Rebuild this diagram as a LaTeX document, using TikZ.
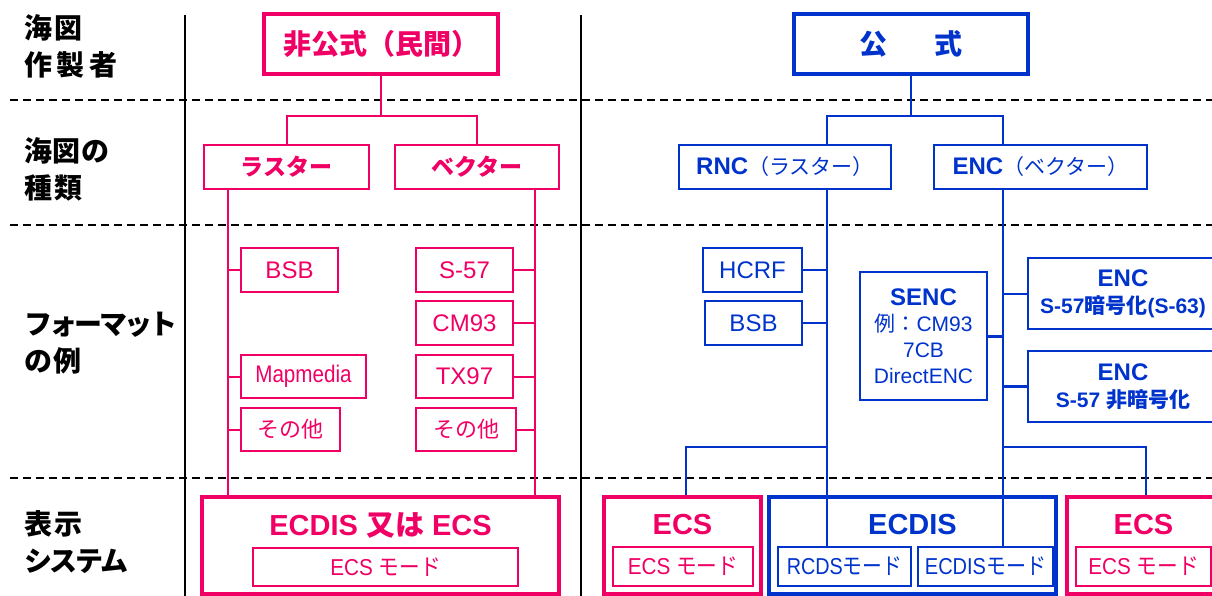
\documentclass[tikz,border=0pt]{standalone}
\usepackage{graphicx}
\usepackage{fontspec}
\setmainfont{Liberation Sans}
\newfontfamily\jp{Noto Sans CJK JP}
\definecolor{pk}{RGB}{240,0,100}
\definecolor{bl}{RGB}{0,51,204}
\newcommand\myfs[2]{\fontsize{#1}{#2}\selectfont}
\newcommand\nar[2]{\scalebox{#1}[1]{#2}}
\tikzset{
 box/.style={draw, line width=2pt, inner sep=0pt, align=center},
 pbox/.style={box, draw=pk, text=pk},
 bbox/.style={box, draw=bl, text=bl},
 heavy/.style={line width=3.5pt},
 sz/.style 2 args={minimum width=#1pt, minimum height=#2pt},
 pline/.style={draw=pk, line width=2pt},
 bline/.style={draw=bl, line width=2pt},
 lbl/.style={anchor=west, align=left, inner sep=0pt, font=\jp\bfseries\myfs{28}{37}},
 ttl/.style={inner sep=0pt, font=\bfseries\myfs{29}{30}},
 fmt/.style={font=\myfs{24}{26}},
 jfmt/.style={font=\jp\myfs{22}{24}},
 mode/.style={font=\myfs{23}{25}},
 sep/.style={black, line width=2pt, dash pattern=on 8pt off 5pt},
}
\begin{document}
\begin{tikzpicture}[x=1pt,y=-1pt]
\useasboundingbox (0,0) rectangle (1212,596);
% separators
\foreach \yy in {100,225,478} \draw[sep] (10,\yy) -- (1212,\yy);
\draw[line width=2.5pt] (185,15) -- (185,596);
\draw[line width=2.5pt] (581,15) -- (581,596);
% row labels
\node[lbl] (l1) at (24,46) {海\kern2pt図\\作\kern4.5pt製\kern4.5pt者};
\node[lbl] (l2) at (24,169) {海\kern0.5pt図\kern0.5pt の\\種\kern2pt類};
\node[lbl] (l3) at (24,343.5) {フ\kern-3ptォ\kern-3ptー\kern-3ptマ\kern-3ptッ\kern-3ptト\\の\kern1pt例};
\node[lbl] (l4) at (24,542) {表\kern2pt示\\シ\kern-2.5ptス\kern-2.5ptテ\kern-2.5ptム};
% pink
\node[pbox, heavy, sz={234}{60}, font=\jp\bfseries\myfs{28}{30}] (pTop) at (381,44) {非公式（民間）};
\node[pbox, sz={165}{44}, font=\jp\bfseries\myfs{23}{26}] (pRas) at (286.5,167) {ラスター};
\node[pbox, sz={164}{44}, font=\jp\bfseries\myfs{23}{26}] (pVec) at (477,167) {ベクター};
\node[pbox, fmt, sz={97}{44}] (pBSB) at (289.5,270) {BSB};
\node[pbox, fmt, sz={125}{43}] (pMap) at (303.5,376.5) {\nar{0.86}{Mapmedia}};
\node[pbox, jfmt, sz={99}{43}] (pOth1) at (290.5,429.5) {その他};
\node[pbox, fmt, sz={97}{44}] (pS57) at (464.5,270) {S-57};
\node[pbox, fmt, sz={97}{44}] (pCM) at (464.5,323) {CM93};
\node[pbox, fmt, sz={97}{43}] (pTX) at (464.5,376.5) {TX97};
\node[pbox, jfmt, sz={100}{43}] (pOth2) at (466,429.5) {その他};
\node[pbox, heavy, sz={357}{97}] (pDisp) at (380.5,545.5) {};
\node[ttl, text=pk] (pDispT) at (380.5,525) {ECDIS {\jp 又は} ECS};
\node[pbox, mode, sz={265}{38}] (pDispM) at (385.5,567) {\nar{0.9}{ECS {\jp モード}}};
\node[pbox, heavy, sz={157}{97}] (pE1) at (682.5,545.5) {};
\node[ttl, text=pk] (pE1T) at (682.5,525) {ECS};
\node[pbox, mode, sz={140}{39}] (pE1M) at (683,566.5) {\nar{0.9}{ECS {\jp モード}}};
\node[pbox, heavy, sz={153}{97}] (pE2) at (1143.5,545.5) {};
\node[ttl, text=pk] (pE2T) at (1143.5,525) {ECS};
\node[pbox, mode, sz={135}{39}] (pE2M) at (1143.5,566.5) {\nar{0.9}{ECS {\jp モード}}};
% blue
\node[bbox, heavy, sz={234}{60}, font=\jp\bfseries\myfs{28}{30}] (bTop) at (911,44) {公\hspace{47pt}式};
\node[bbox, sz={212}{44}] (bRNC) at (785,167) {{\bfseries\myfs{24}{26}RNC}{\jp\myfs{21}{24}（ラスター）}};
\node[bbox, sz={213}{44}] (bENC) at (1040.5,167) {{\bfseries\myfs{24}{26}ENC}{\jp\myfs{21}{24}（ベクター）}};
\node[bbox, fmt, sz={99}{44}] (bHCRF) at (752.5,270) {HCRF};
\node[bbox, fmt, sz={97}{44}] (bBSB) at (753.5,323) {BSB};
\node[bbox, sz={127}{128}, font=\myfs{21}{26}] (bSENC) at (923.5,336) {{\bfseries\myfs{24}{26}SENC}\\{\jp 例：}CM93\\7CB\\DirectENC};
\node[bbox, sz={190}{71}, font=\bfseries\myfs{21}{27}] (bENC1) at (1123,293.5) {{\myfs{24}{27}ENC}\\S-57{\jp 暗号化}(S-63)};
\node[bbox, sz={190}{71}, font=\bfseries\myfs{21}{27}] (bENC2) at (1123,386.5) {{\myfs{24}{27}ENC}\\S-57 {\jp 非暗号化}};
\node[bbox, heavy, sz={287}{97}] (bECD) at (912.5,545.5) {};
\node[ttl, text=bl] (bECDT) at (912.5,525) {ECDIS};
\node[bbox, mode, sz={133}{39}] (bRCDS) at (844.5,566.5) {\nar{0.86}{RCDS{\jp モード}}};
\node[bbox, mode, sz={135}{39}] (bECDm) at (985.5,566.5) {\nar{0.87}{ECDIS{\jp モード}}};
% pink connectors
\coordinate (pJ) at (381,116);
\coordinate (pL) at (228,0);
\coordinate (pR) at (535,0);
\draw[pline] (pTop.south) -- (pJ);
\draw[pline] (pRas.north) -- (pRas.north |- pJ) -- (pVec.north |- pJ) -- (pVec.north);
\draw[pline] (pRas.south -| pL) -- (pDisp.north -| pL);
\draw[pline] (pVec.south -| pR) -- (pDisp.north -| pR);
\foreach \n in {pBSB,pMap,pOth1} \draw[pline] (\n.west) -- (\n.west -| pL);
\foreach \n in {pS57,pCM,pTX,pOth2} \draw[pline] (\n.east) -- (\n.east -| pR);
% blue connectors
\coordinate (bJ) at (911,116);
\coordinate (bL) at (827,0);
\coordinate (bR) at (1003,0);
\draw[bline] (bTop.south) -- (bJ);
\draw[bline] (bRNC.north -| bL) -- (bJ -| bL) -- (bJ -| bR) -- (bENC.north -| bR);
\draw[bline] (bRNC.south -| bL) -- (bRCDS.north -| bL);
\draw[bline] (bENC.south -| bR) -- (bECDm.north -| bR);
\draw[bline] (bHCRF.east) -- (bHCRF.east -| bL);
\draw[bline] (bBSB.east) -- (bBSB.east -| bL);
\draw[bline, line width=3pt] (bSENC.east) -- (bSENC.east -| bR);
\draw[bline] (bENC1.west) -- (bENC1.west -| bR);
\draw[bline, line width=3pt] (bENC2.west) -- (bENC2.west -| bR);
\coordinate (bB) at (0,447);
\coordinate (eL) at (686,0);
\coordinate (eR) at (1146,0);
\draw[bline] (bB -| bL) -- (bB -| eL) -- (pE1.north -| eL);
\draw[bline] (bB -| bR) -- (bB -| eR) -- (pE2.north -| eR);
\end{tikzpicture}
\end{document}
